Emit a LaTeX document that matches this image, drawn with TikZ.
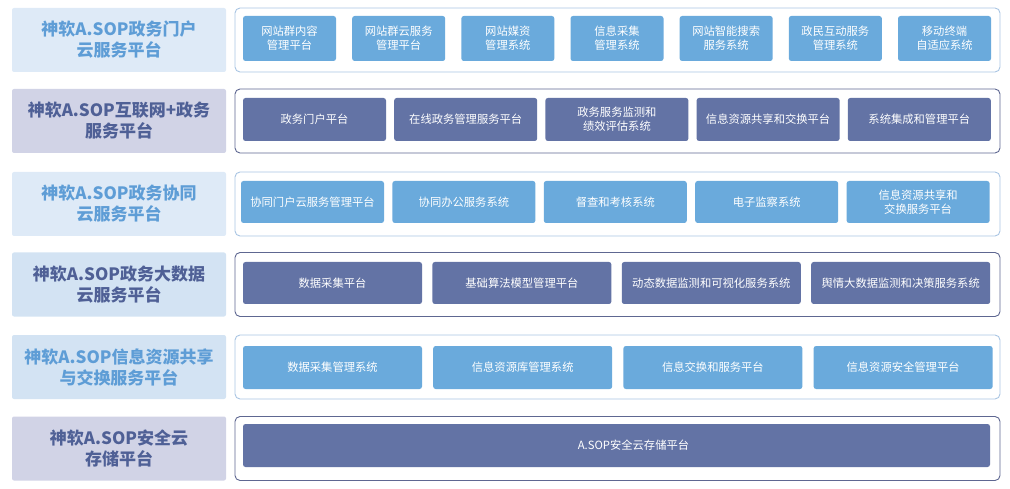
\documentclass[tikz,border=0pt]{standalone}
\usepackage{fontspec}
\setmainfont{Noto Sans CJK SC}
\usepackage{xcolor}
\usetikzlibrary{positioning}
\definecolor{lblpale}{HTML}{DEEAF7}
\definecolor{lblsky}{HTML}{D3E3F3}
\definecolor{lblgrey}{HTML}{D1D3E6}
\definecolor{txtsky}{HTML}{5E9DD6}
\definecolor{txtnavy}{HTML}{4F6096}
\definecolor{boxsky}{HTML}{6AAADC}
\definecolor{boxnavy}{HTML}{6373A5}
\definecolor{rimsky}{HTML}{A9C5E3}
\definecolor{rimnavy}{HTML}{5E6791}

\begin{document}
\begin{tikzpicture}[x=1pt, y=-1pt,
    lbl/.style={rounded corners=2pt, minimum width=214pt, minimum height=64pt,
        inner sep=0pt, align=center, font=\bfseries\fontsize{17}{21}\selectfont},
    rim/.style={draw, line width=0.9pt, rounded corners=5pt, fill=white,
        minimum width=765pt, minimum height=64pt},
    item/.style={rounded corners=2.5pt, inner sep=0pt, text=white, align=center,
        font=\fontsize{11.3}{14}\selectfont},
    skyitem/.style={item, fill=boxsky},
    navyitem/.style={item, fill=boxnavy}]

\useasboundingbox (0,0) rectangle (1010,489);

% row 1: portal cloud
\node[lbl, fill=lblpale, text=txtsky] (t1) at (119,40) {神软A.SOP政务门户\\云服务平台};
\node[rim, draw=rimsky] (r1) at (617.5,40) {};
\foreach \name [count=\i] in {{网站群内容\\管理平台}, {网站群云服务\\管理平台}, {网站媒资\\管理系统},
    {信息采集\\管理系统}, {网站智能搜索\\服务系统}, {政民互动服务\\管理系统}, {移动终端\\自适应系统}} {
    \node[skyitem, minimum width=93pt, minimum height=45pt] (p\i) at ({289.5+109.17*(\i-1)},38.5) {\name};
}

% row 2: internet + government
\node[lbl, fill=lblgrey, text=txtnavy] (t2) at (119,121) {神软A.SOP互联网+政务\\服务平台};
\node[rim, draw=rimnavy] (r2) at (617.5,121) {};
\foreach \name [count=\i] in {政务门户平台, 在线政务管理服务平台, {政务服务监测和\\绩效评估系统},
    信息资源共享和交换平台, 系统集成和管理平台} {
    \node[navyitem, minimum width=143pt, minimum height=43pt] (q\i) at ({314.5+151.2*(\i-1)},119.5) {\name};
}

% row 3: collaboration cloud
\node[lbl, fill=lblpale, text=txtsky] (t3) at (119,204) {神软A.SOP政务协同\\云服务平台};
\node[rim, draw=rimsky] (r3) at (617.5,204) {};
\foreach \name [count=\i] in {协同门户云服务管理平台, 协同办公服务系统, 督查和考核系统,
    电子监察系统, {信息资源共享和\\交换服务平台}} {
    \node[skyitem, minimum width=143pt, minimum height=42pt] (s\i) at ({312.5+151.4*(\i-1)},202) {\name};
}

% row 4: big data cloud
\node[lbl, fill=lblsky, text=txtnavy] (t4) at (119,284.5) {神软A.SOP政务大数据\\云服务平台};
\node[rim, draw=rimnavy] (r4) at (617.5,284.5) {};
\foreach \name [count=\i] in {数据采集平台, 基础算法模型管理平台, 动态数据监测和可视化服务系统,
    舆情大数据监测和决策服务系统} {
    \node[navyitem, minimum width=179pt, minimum height=42pt] (d\i) at ({332.5+189.4*(\i-1)},283) {\name};
}

% row 5: resource sharing and exchange
\node[lbl, fill=lblsky, text=txtsky] (t5) at (119,367) {神软A.SOP信息资源共享\\与交换服务平台};
\node[rim, draw=rimsky] (r5) at (617.5,367) {};
\foreach \name [count=\i] in {数据采集管理系统, 信息资源库管理系统, 信息交换和服务平台,
    信息资源安全管理平台} {
    \node[skyitem, minimum width=179pt, minimum height=43pt] (x\i) at ({332.5+190.2*(\i-1)},367.5) {\name};
}

% row 6: secure cloud storage
\node[lbl, fill=lblgrey, text=txtnavy] (t6) at (119,448.5) {神软A.SOP安全云\\存储平台};
\node[rim, draw=rimnavy] (r6) at (617.5,448.5) {};
\node[navyitem, minimum width=747pt, minimum height=43pt] (c1) at (616.5,445.5) {\hspace*{34pt}A.SOP安全云存储平台};

\end{tikzpicture}
\end{document}
